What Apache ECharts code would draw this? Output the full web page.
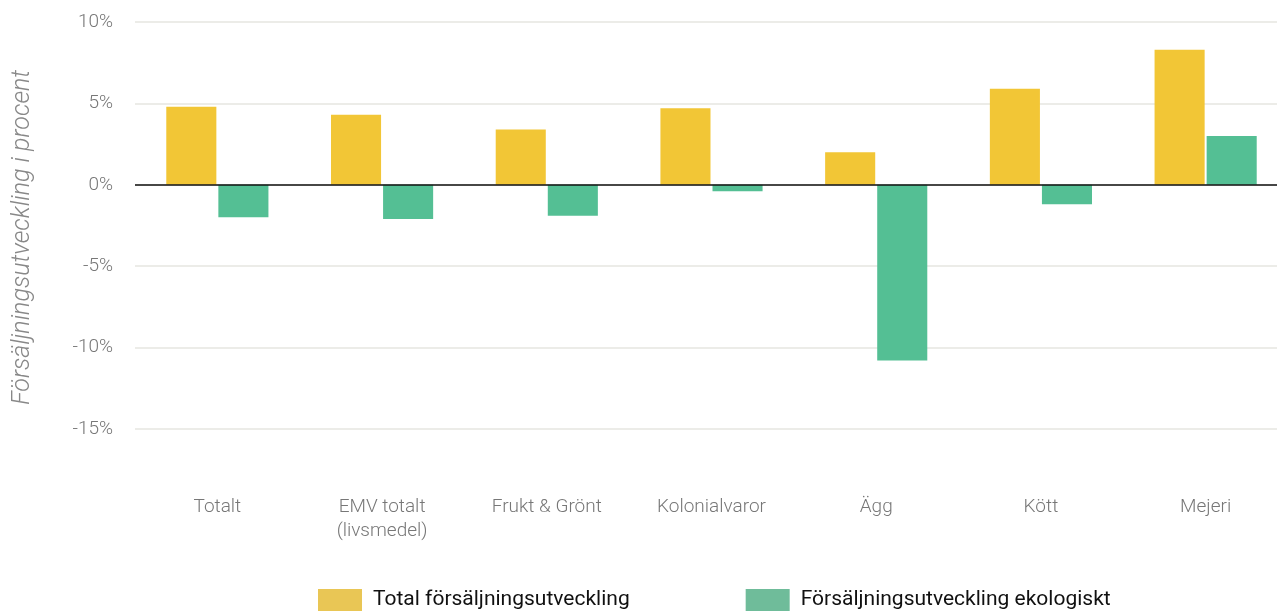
<!DOCTYPE html>
<html>
<head>
<meta charset="utf-8">
<script src="https://cdn.jsdelivr.net/npm/echarts@6/dist/echarts.min.js"></script>
<style>
  html, body { margin: 0; padding: 0; background: #fff; }
  #chart { width: 1277px; height: 611px; }
</style>
</head>
<body>
<div id="chart"></div>
<script>
var categories = ['Totalt', 'EMV totalt\n(livsmedel)', 'Frukt & Grönt', 'Kolonialvaror', 'Ägg', 'Kött', 'Mejeri'];
var totalSales = [4.8, 4.3, 3.4, 4.7, 2.0, 5.9, 8.3];
var organicSales = [-2.0, -2.1, -1.9, -0.4, -10.8, -1.2, 3.0];
var seriesNames = ['Total försäljningsutveckling', 'Försäljningsutveckling ekologiskt'];
var yTicks = { min: -15, max: 10, interval: 5 };

var chart = echarts.init(document.getElementById('chart'));

var fontFamily = 'Roboto, "DejaVu Sans", sans-serif';

chart.setOption({
    animation: false,
    textStyle: { fontFamily: fontFamily },
    // plot runs past the right edge, like the original
    grid: { left: 135, width: 1153, top: 22, height: 407, containLabel: false, outerBoundsMode: 'none' },
    legend: {
        left: 313,
        top: 584,
        itemWidth: 44,
        itemHeight: 22,
        itemGap: 116,
        icon: 'rect',
        textStyle: { fontSize: 21, color: '#111', padding: [0, 0, 0, 6], fontFamily: fontFamily },
        data: [
            { name: seriesNames[0], itemStyle: { color: '#E9C655' } },
            { name: seriesNames[1], itemStyle: { color: '#6FBC9A' } }
        ]
    },
    xAxis: {
        type: 'category',
        data: categories,
        position: 'bottom',
        axisLine: { show: false, onZero: false },
        axisTick: { show: false },
        axisLabel: { color: '#777', fontSize: 19, fontWeight: 300, margin: 66, lineHeight: 24 }
    },
    yAxis: {
        type: 'value',
        min: yTicks.min,
        max: yTicks.max,
        interval: yTicks.interval,
        name: 'Försäljningsutveckling i procent',
        nameLocation: 'middle',
        nameGap: 100,
        nameTextStyle: { color: '#888', fontSize: 25, fontStyle: 'italic', fontWeight: 300, padding: [0, 24, 0, 0] },
        axisLine: { show: false },
        axisTick: { show: false },
        axisLabel: { color: '#777', fontSize: 19, fontWeight: 300, margin: 22, formatter: '{value}%' },
        splitLine: { lineStyle: { color: '#e6e6e1', width: 1.5 } }
    },
    series: [
        {
            name: seriesNames[0],
            type: 'bar',
            data: totalSales,
            barWidth: '30.4%',
            barGap: '4%',
            itemStyle: { color: '#F2C636' },
            markLine: {
                silent: true,
                symbol: 'none',
                label: { show: false },
                lineStyle: { color: '#111', width: 1.5, type: 'solid' },
                data: [{ yAxis: 0 }]
            }
        },
        {
            name: seriesNames[1],
            type: 'bar',
            data: organicSales,
            barWidth: '30.4%',
            barGap: '4%',
            itemStyle: { color: '#54BF94' }
        }
    ]
});
</script>
</body>
</html>
